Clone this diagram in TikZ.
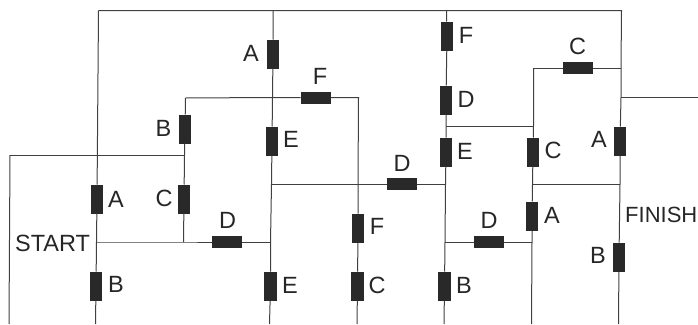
\documentclass[tikz,border=0pt]{standalone}
\usepackage{fontspec}
\setmainfont{Liberation Sans}
\tikzset{
  wire/.style={draw=black!75,line width=1pt},
  vres/.style={draw=none,fill=black!84,minimum width=12.5pt,minimum height=29pt,inner sep=0pt,outer sep=0pt},
  hres/.style={draw=none,fill=black!84,minimum width=30pt,minimum height=12pt,inner sep=0pt,outer sep=0pt},
  lab/.style={font=\fontsize{23.5}{25}\selectfont,text=black!85,inner sep=0pt},
  finlab/.style={font=\fontsize{22}{25}\selectfont,text=black!85,inner sep=0pt},
}
\begin{document}
\begin{tikzpicture}[x=1pt,y=-1pt]
\useasboundingbox (0,0) rectangle (698,324);
% junctions and free ends
\coordinate (t1) at (98.5,10.5);
\coordinate (t2) at (273,10.5);
\coordinate (t3) at (446.5,10.5);
\coordinate (t4) at (621.5,10.5);
\coordinate (s0) at (10,155);
\coordinate (s1) at (184.5,155);
\coordinate (b0) at (9,324);
\coordinate (b1) at (95.5,324);
\coordinate (b2) at (269.5,324);
\coordinate (b3) at (357,324);
\coordinate (b4) at (444,324);
\coordinate (b5) at (531.5,324);
\coordinate (b6) at (618.5,324);
\coordinate (f0) at (185.5,98);
\coordinate (f1) at (272.5,97.5);
\coordinate (f2) at (358.5,97.5);
\coordinate (m1) at (271.5,184);
\coordinate (m2) at (358,184);
\coordinate (m3) at (445.5,184);
\coordinate (m4) at (532.5,184);
\coordinate (m5) at (620,184);
\coordinate (d0) at (96.5,242);
\coordinate (d1) at (183.5,242);
\coordinate (d2) at (270.5,242);
\coordinate (d3) at (445,242);
\coordinate (d4) at (532,242);
\coordinate (g1) at (446,126);
\coordinate (g2) at (533.5,126);
\coordinate (c1) at (533.5,68);
\coordinate (c2) at (621,68);
\coordinate (o1) at (621,97.5);
\coordinate (o2) at (698,97.5);
% elements
\node[vres] (ra1) at (97,199) {};
\node[vres] (rb1) at (96,286) {};
\node[vres] (rb2) at (185,129) {};
\node[vres] (rc1) at (184,199) {};
\node[hres] (rd1) at (227,242) {};
\node[vres] (ra2) at (273,54) {};
\node[hres] (rf1) at (315.5,97.5) {};
\node[vres] (re1) at (272,141) {};
\node[vres] (re2) at (270.5,286) {};
\node[hres] (rd2) at (402,184) {};
\node[vres] (rf2) at (358,228) {};
\node[vres] (rc2) at (357.5,286) {};
\node[vres] (rf3) at (447,36) {};
\node[vres] (rd3) at (446,100) {};
\node[vres] (re3) at (446,152) {};
\node[vres] (rb3) at (444.5,286) {};
\node[hres] (rd4) at (488.5,242) {};
\node[vres] (rc3) at (533,152) {};
\node[vres] (ra3) at (532,216) {};
\node[hres] (rc4) at (577.5,68) {};
\node[vres] (ra4) at (620,141) {};
\node[vres] (rb4) at (619,257) {};
% wires
\draw[wire] (t1) -- (t4) -- (c2) -- (o1) -- (ra4) -- (m5) -- (rb4) -- (b6);
\draw[wire] (t1) -- (ra1) -- (d0) -- (rb1) -- (b1);
\draw[wire] (s0) -- (s1);
\draw[wire] (s0) -- (b0);
\draw[wire] (f0) -- (rb2) -- (s1) -- (rc1) -- (d1);
\draw[wire] (f0) -- (f1) -- (rf1) -- (f2) -- (m2) -- (rf2) -- (rc2) -- (b3);
\draw[wire] (t2) -- (ra2) -- (f1) -- (re1) -- (m1) -- (d2) -- (re2) -- (b2);
\draw[wire] (d0) -- (d1) -- (rd1) -- (d2);
\draw[wire] (m1) -- (rd2) -- (m3);
\draw[wire] (t3) -- (rf3) -- (rd3) -- (g1) -- (re3) -- (m3) -- (d3) -- (rb3) -- (b4);
\draw[wire] (g1) -- (g2);
\draw[wire] (c1) -- (g2) -- (rc3) -- (m4) -- (ra3) -- (d4) -- (b5);
\draw[wire] (c1) -- (rc4) -- (c2);
\draw[wire] (m4) -- (m5);
\draw[wire] (d3) -- (rd4) -- (d4);
\draw[wire] (o1) -- (o2);
% labels
\node[lab] (la1) at (116,199) {A};
\node[lab] (lb1) at (116,284.5) {B};
\node[lab,anchor=west] (lstart) at (15,243.5) {START};
\node[lab] (lc1) at (164,198) {C};
\node[lab] (lb2) at (163.5,128) {B};
\node[lab] (la2) at (251,53) {A};
\node[lab] (lf1) at (320,76) {F};
\node[lab] (le1) at (291,139.5) {E};
\node[lab] (ld1) at (227.5,220.5) {D};
\node[lab] (le2) at (290,285) {E};
\node[lab] (lf3) at (466,35) {F};
\node[lab] (ld3) at (466,99) {D};
\node[lab] (le3) at (465,151) {E};
\node[lab] (ld2) at (402,163) {D};
\node[lab] (lf2) at (377,226) {F};
\node[lab] (lc2) at (377,285) {C};
\node[lab] (lb3) at (464,285) {B};
\node[lab] (ld4) at (489,220.5) {D};
\node[lab] (lc3) at (553,150.5) {C};
\node[lab] (la3) at (552,215) {A};
\node[lab] (lc4) at (577.5,46) {C};
\node[lab] (la4) at (599,139) {A};
\node[finlab,anchor=west] (lfin) at (625,214.5) {FINISH};
\node[lab] (lb4) at (598,255.5) {B};
\end{tikzpicture}
\end{document}
